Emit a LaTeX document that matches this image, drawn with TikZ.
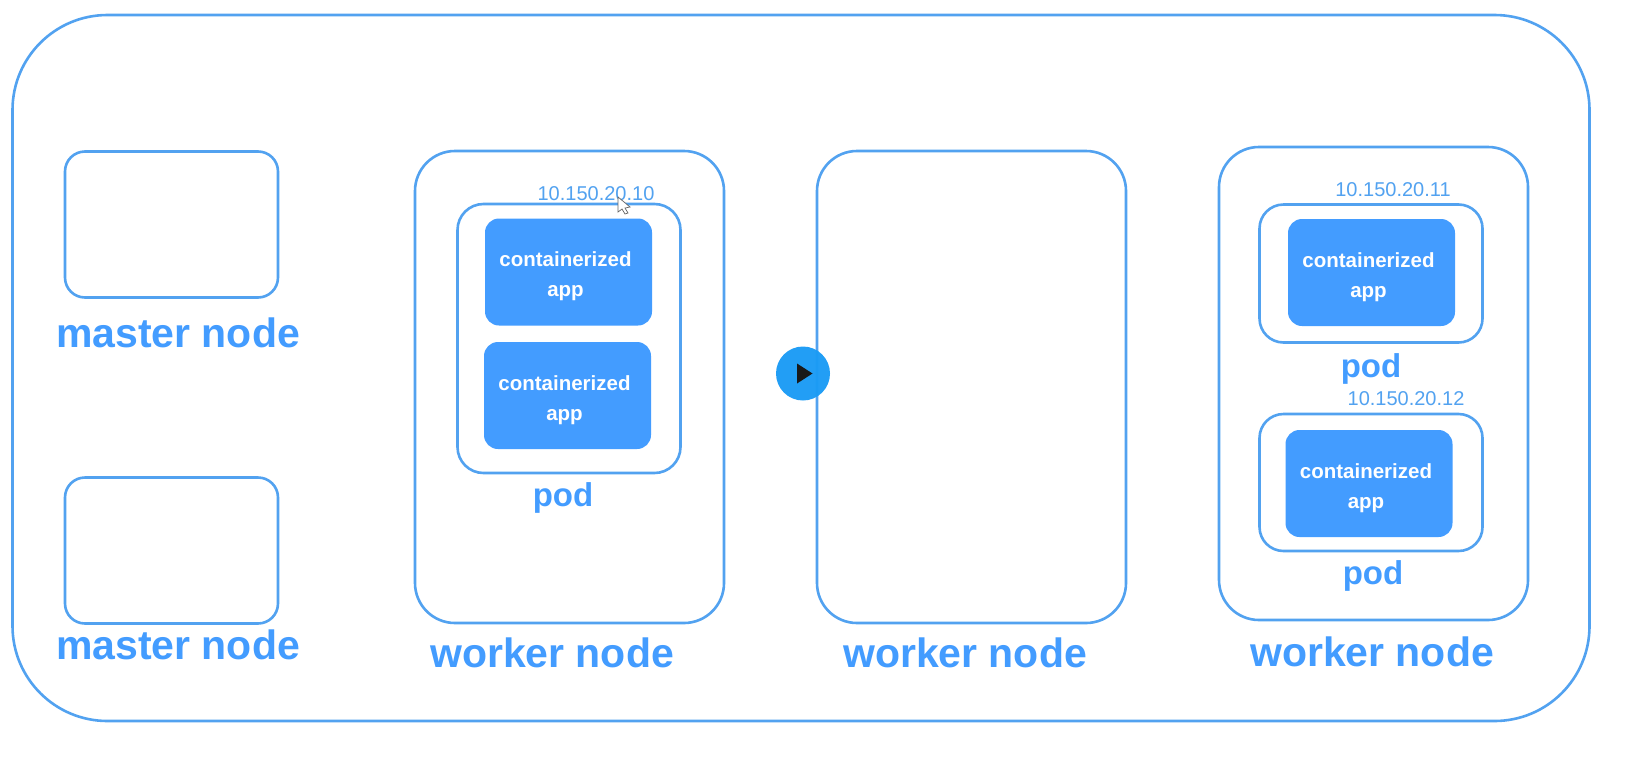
\documentclass[tikz,border=0pt]{standalone}
\usepackage{fontspec}
\setmainfont{Liberation Sans}
\usepackage{xcolor}
\usetikzlibrary{positioning}
\definecolor{kubeblue}{HTML}{439CFF}
\definecolor{kubeline}{HTML}{52A2F0}
\definecolor{playblue}{HTML}{1A9BF5}
\newcommand{\bigbold}{\fontsize{41}{44}\selectfont\bfseries}
\newcommand{\podbold}{\fontsize{33}{38}\selectfont\bfseries}
\newcommand{\appbold}{\fontsize{20.5}{30}\selectfont\bfseries}
\newcommand{\ipsize}{\fontsize{20}{24}\selectfont}
\newcommand{\apptext}{\rule{0pt}{24pt}containerized\hspace*{6pt}\\app\hspace*{6pt}}

\begin{document}
\begin{tikzpicture}[
  x=1pt, y=-1pt,
  frame/.style={rectangle, rounded corners=#1, draw=kubeline, line width=2.6pt, fill=white, inner sep=0pt},
  app/.style={rectangle, rounded corners=14pt, fill=kubeblue, text=white, font=\appbold,
              minimum width=167pt, minimum height=107pt, align=center, inner sep=0pt},
  nodename/.style={text=kubeblue, font=\bigbold, inner sep=0pt},
  podname/.style={text=kubeblue, font=\podbold, inner sep=0pt},
  ip/.style={text=kubeline, font=\ipsize, inner sep=0pt}]
  \useasboundingbox (0,0) rectangle (1637,758);
  % cluster
  \node[frame=95pt, minimum width=1577pt, minimum height=706pt] (cluster) at (801,368) {};
  % masters
  \node[frame=20pt, minimum width=213pt, minimum height=146pt] (master1) at (171.5,224.5) {};
  \node[frame=20pt, minimum width=213pt, minimum height=146pt] (master2) at (171.5,550.5) {};
  \node[nodename] (mastertxt1) at (178,333) {master node};
  \node[nodename] (mastertxt2) at (178,645) {master node};
  % workers
  \node[frame=40pt, minimum width=309pt, minimum height=472pt] (worker1) at (569.5,387) {};
  \node[frame=40pt, minimum width=309pt, minimum height=472pt] (worker2) at (971.5,387) {};
  \node[frame=40pt, minimum width=309pt, minimum height=473pt] (worker3) at (1373.5,383.5) {};
  \node[nodename] (workertxt1) at (552,653) {worker node};
  \node[nodename] (workertxt2) at (965,653) {worker node};
  \node[nodename] (workertxt3) at (1372,652) {worker node};
  % pods
  \node[frame=26pt, minimum width=223pt, minimum height=269pt] (pod1) at (569,338.5) {};
  \node[frame=24pt, minimum width=223pt, minimum height=138pt] (pod2) at (1371,273.5) {};
  \node[frame=24pt, minimum width=223pt, minimum height=137pt] (pod3) at (1371,482.5) {};
  \node[podname] (podtxt1) at (563,498) {pod};
  \node[podname] (podtxt2) at (1371,369) {pod};
  \node[podname] (podtxt3) at (1373,576) {pod};
  % apps
  \node[app] (app1) at (568.5,272) {\apptext};
  \node[app] (app2) at (567.5,395.5) {\apptext};
  \node[app] (app3) at (1371.5,272.5) {\apptext};
  \node[app] (app4) at (1369,483.5) {\apptext};
  % addresses
  \node[ip] (ip1) at (596,194) {10.150.20.10};
  \node[ip] (ip2) at (1393,190) {10.150.20.11};
  \node[ip] (ip3) at (1406,399) {10.150.20.12};
  % pointer and player button
  \draw[fill=white, draw=black!60, line width=0.7pt] (618,197) -- (618,212) -- (622,209) -- (625,214) -- (628,213) -- (625,208) -- (630,207) -- cycle;
  \node[circle, fill=playblue, opacity=0.96, minimum size=54pt, inner sep=0pt] (play) at (803,373.5) {};
  \fill[black!90] (797,363.5) -- (812.5,373.5) -- (797,383.5) -- cycle;
\end{tikzpicture}
\end{document}
